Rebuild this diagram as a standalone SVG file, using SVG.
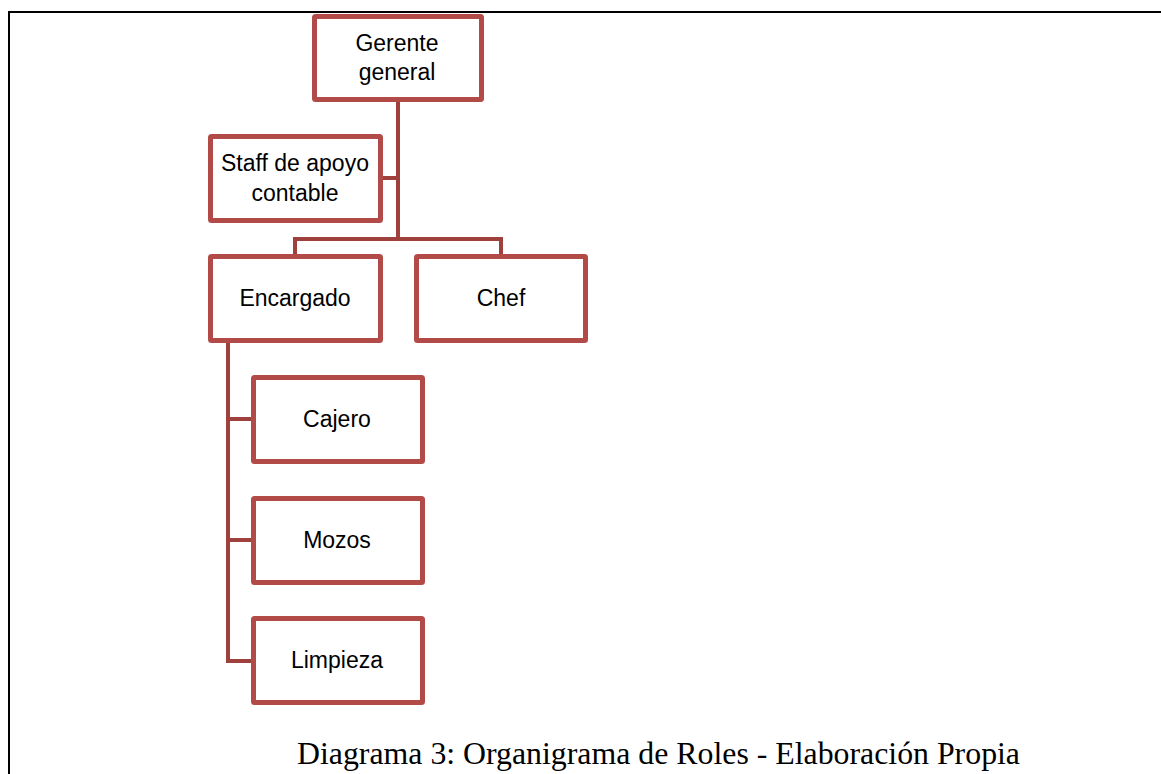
<svg xmlns="http://www.w3.org/2000/svg" width="1161" height="774" viewBox="0 0 1161 774">
<style>
.box{fill:#fff;stroke:#B24B48;stroke-width:5;}
.lbl{font-family:"Liberation Sans",Arial,sans-serif;font-size:23px;fill:#000;text-anchor:middle;}
.con{fill:none;stroke:#A0403D;stroke-width:4;stroke-linejoin:miter;}
.frame{fill:none;stroke:#000;stroke-width:2;}
.cap{font-family:"Liberation Serif","Times New Roman",serif;font-size:31px;fill:#000;}
</style>
<rect width="1161" height="774" fill="#fff"/>
<path class="frame" d="M9,774 V12 H1161"/>
<g id="connectors">
<path class="con" d="M398,102 V239"/>
<path class="con" d="M295,254 V239 H501 V254"/>
<path class="con" d="M383,178 H398"/>
<path class="con" d="M228,343 V661 H251"/>
<path class="con" d="M228,419 H251"/>
<path class="con" d="M228,540 H251"/>
</g>
<g id="gerente"><rect class="box" x="314.5" y="16.5" width="167" height="83" rx="1"/><text class="lbl" x="397" y="51">Gerente</text><text class="lbl" x="397" y="80">general</text></g>
<g id="staff"><rect class="box" x="210.5" y="136.5" width="170" height="84" rx="1"/><text class="lbl" x="295" y="171">Staff de apoyo</text><text class="lbl" x="295" y="201">contable</text></g>
<g id="encargado"><rect class="box" x="210.5" y="256.5" width="170" height="84" rx="1"/><text class="lbl" x="295" y="306">Encargado</text></g>
<g id="chef"><rect class="box" x="416.5" y="256.5" width="169" height="84" rx="1"/><text class="lbl" x="501" y="306">Chef</text></g>
<g id="cajero"><rect class="box" x="253.5" y="377.5" width="169" height="84" rx="1"/><text class="lbl" x="337" y="427">Cajero</text></g>
<g id="mozos"><rect class="box" x="253.5" y="498.5" width="169" height="84" rx="1"/><text class="lbl" x="337" y="548">Mozos</text></g>
<g id="limpieza"><rect class="box" x="253.5" y="618.5" width="169" height="84" rx="1"/><text class="lbl" x="337" y="668">Limpieza</text></g>
<text class="cap" x="297" y="764" textLength="723" lengthAdjust="spacingAndGlyphs">Diagrama 3: Organigrama de Roles - Elaboración Propia</text>
</svg>
